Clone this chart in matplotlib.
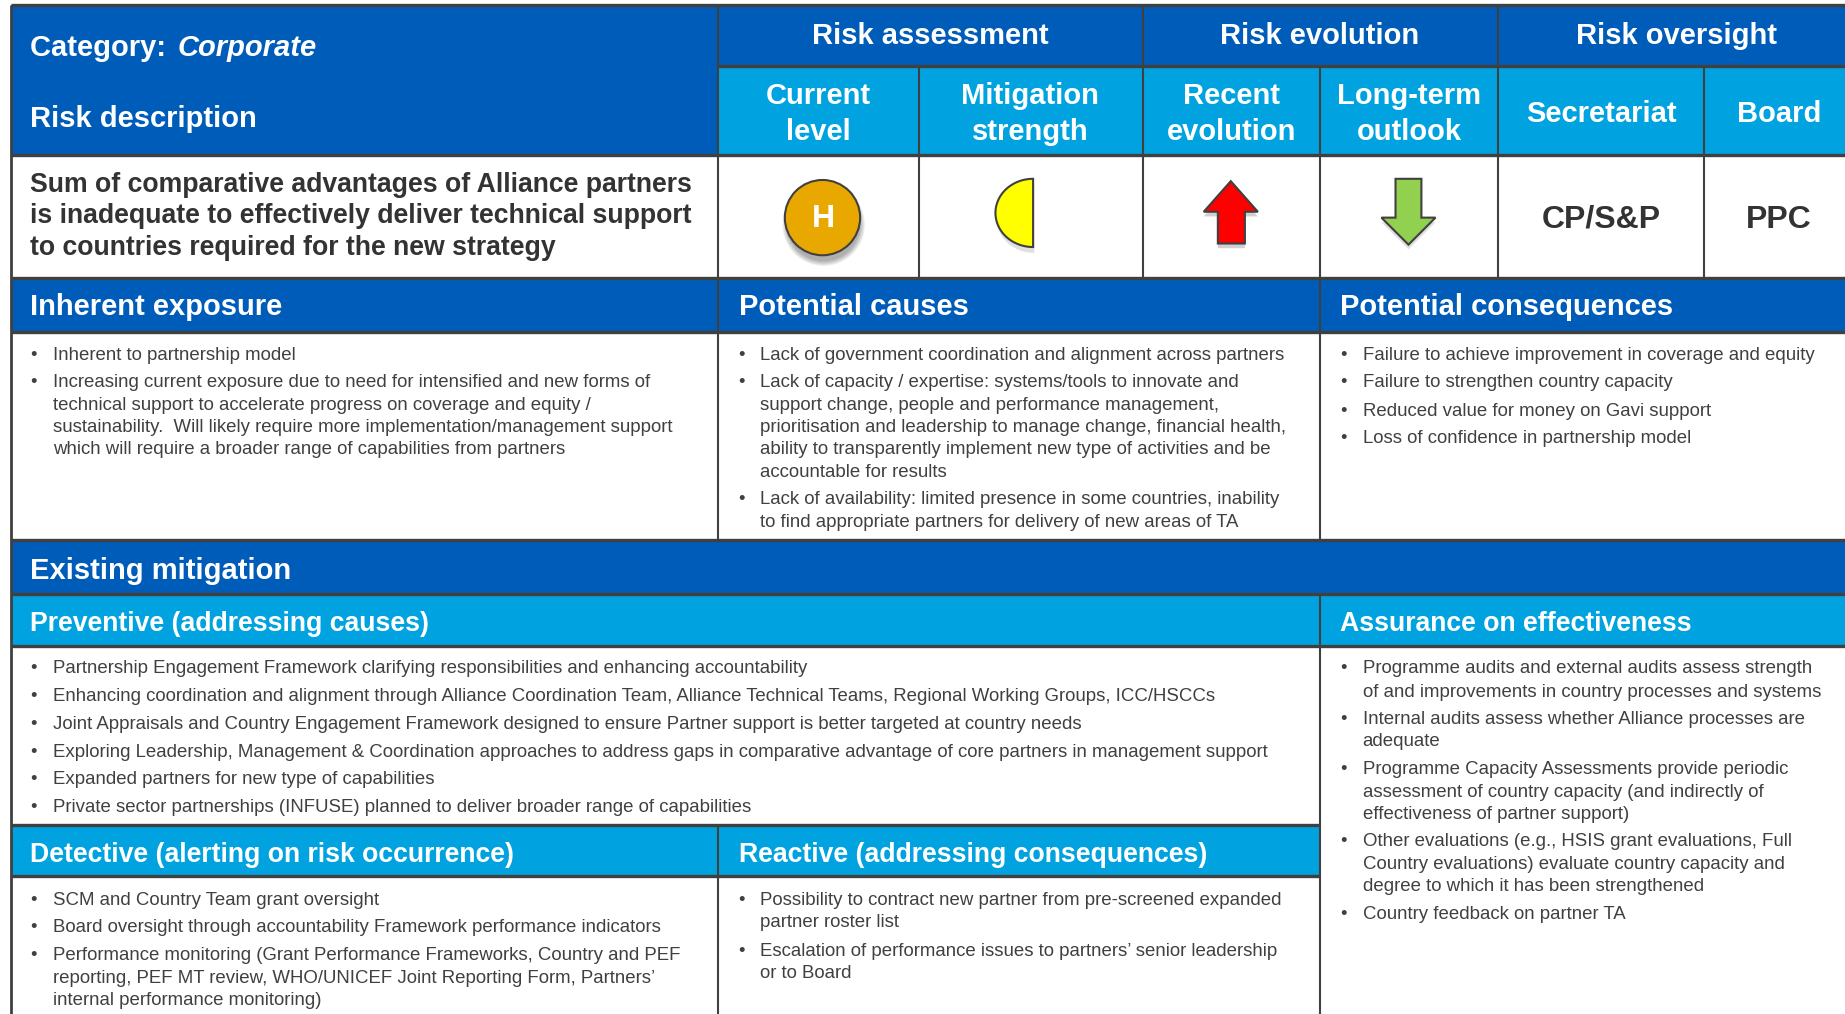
import numpy as np
import matplotlib
matplotlib.use("Agg")
import matplotlib.pyplot as plt
from matplotlib.patches import Rectangle, Circle, Polygon

plt.rcParams['font.family'] = ['Liberation Sans', 'DejaVu Sans']

DARK = '#005cb9'
LIGHT = '#00a3e0'
LINE = '#404040'
INK = '#333333'
BODY = '#404040'

risk_description = ["Sum of comparative advantages of Alliance partners",
                    "is inadequate to effectively deliver technical support",
                    "to countries required for the new strategy"]

inherent = ["• Inherent to partnership model",
            "• Increasing current exposure due to need for intensified and new forms of",
            "technical support to accelerate progress on coverage and equity /",
            "sustainability.  Will likely require more implementation/management support",
            "which will require a broader range of capabilities from partners"]
inherent_y = [301, 324, 343, 362, 381]

causes = ["• Lack of government coordination and alignment across partners",
          "• Lack of capacity / expertise: systems/tools to innovate and",
          "support change, people and performance management,",
          "prioritisation and leadership to manage change, financial health,",
          "ability to transparently implement new type of activities and be",
          "accountable for results",
          "• Lack of availability: limited presence in some countries, inability",
          "to find appropriate partners for delivery of new areas of TA"]
causes_y = [301, 324, 343, 362, 381, 400, 423, 443]

consequences = ["• Failure to achieve improvement in coverage and equity",
                "• Failure to strengthen country capacity",
                "• Reduced value for money on Gavi support",
                "• Loss of confidence in partnership model"]
consequences_y = [301, 324, 348, 371]

preventive = ["• Partnership Engagement Framework clarifying responsibilities and enhancing accountability",
              "• Enhancing coordination and alignment through Alliance Coordination Team, Alliance Technical Teams, Regional Working Groups, ICC/HSCCs",
              "• Joint Appraisals and Country Engagement Framework designed to ensure Partner support is better targeted at country needs",
              "• Exploring Leadership, Management & Coordination approaches to address gaps in comparative advantage of core partners in management support",
              "• Expanded partners for new type of capabilities",
              "• Private sector partnerships (INFUSE) planned to deliver broader range of capabilities"]
preventive_y = [567, 591, 614, 638, 661, 685]

assurance = ["• Programme audits and external audits assess strength",
             "of and improvements in country processes and systems",
             "• Internal audits assess whether Alliance processes are",
             "adequate",
             "• Programme Capacity Assessments provide periodic",
             "assessment of country capacity (and indirectly of",
             "effectiveness of partner support)",
             "• Other evaluations (e.g., HSIS grant evaluations, Full",
             "Country evaluations) evaluate country capacity and",
             "degree to which it has been strengthened",
             "• Country feedback on partner TA"]
assurance_y = [567, 587, 610, 629, 653, 672, 691, 714, 733, 752, 776]

detective = ["• SCM and Country Team grant oversight",
             "• Board oversight through accountability Framework performance indicators",
             "• Performance monitoring (Grant Performance Frameworks, Country and PEF",
             "reporting, PEF MT review, WHO/UNICEF Joint Reporting Form, Partners’",
             "internal performance monitoring)"]
detective_y = [764, 787, 811, 830, 849]

reactive = ["• Possibility to contract new partner from pre-screened expanded",
            "partner roster list",
            "• Escalation of performance issues to partners’ senior leadership",
            "or to Board"]
reactive_y = [764, 783, 807, 826]

fig = plt.figure(figsize=(18.45, 10.14), dpi=100)
ax = fig.add_axes([0, 0, 1, 1])
# work in the coordinates of the shrunk 1568x862 view
ax.set_xlim(0, 1568)
ax.set_ylim(862, 0)
ax.axis('off')


def band(x0, x1, y0, y1, color):
    ax.add_patch(Rectangle((x0, y0), x1 - x0, y1 - y0, facecolor=color, edgecolor='none', zorder=1))


def vline(x, y0, y1, lw=1.5):
    ax.plot([x, x], [y0, y1], color=LINE, lw=lw, zorder=3, solid_capstyle='butt')


def hline(y, x0=9, x1=1568, lw=2.4):
    ax.plot([x0, x1], [y, y], color=LINE, lw=lw, zorder=3, solid_capstyle='butt')


def head(x, y, s, ha='left', color='white', size=21, **kw):
    ax.text(x + 0.7, y + 2, s, ha=ha, va='center', color=color, fontsize=size, fontweight='bold', zorder=5, **kw)


def bullets(x, lines, ys):
    for s, y in zip(lines, ys):
        if s.startswith('• '):
            ax.text(x, y + 1.5, '•', ha='left', va='center', color=BODY, fontsize=13.44, zorder=5)
            s = s[2:]
        ax.text(x + 19, y + 1.5, s, ha='left', va='center', color=BODY, fontsize=13.44, zorder=5)


def shadow(make, dy=6):
    # soft drop shadow, a few faint copies growing outwards
    for grow in [3, 2, 1, 0, -1]:
        ax.add_patch(make(grow, dy))


# colour bands
band(9, 1568, 4, 132, DARK)
band(610, 1568, 56, 132, LIGHT)
band(9, 1568, 236, 282, DARK)
band(9, 1568, 459, 505, DARK)
band(9, 1568, 505, 549, LIGHT)
band(9, 1122, 701, 745, LIGHT)

# rules
for y in [4, 132, 236, 282, 459, 505, 549]:
    hline(y)
hline(56, 610)
hline(701, 9, 1122)
hline(745, 9, 1122)
vline(9, 4, 862, 2.0)
vline(610, 4, 459)
vline(781, 56, 236)
vline(971, 4, 236)
vline(1122, 56, 459)
vline(1273, 4, 236)
vline(1448, 56, 236)
vline(1122, 505, 862)
vline(610, 701, 862)

# top header
head(25, 39, "Category: ")
head(150, 39, "Corporate", fontstyle='italic')
head(25, 99, "Risk description")
head(790, 29, "Risk assessment", ha='center')
head(1121, 29, "Risk evolution", ha='center')
head(1424, 29, "Risk oversight", ha='center')
head(695, 80, "Current", ha='center')
head(695, 110, "level", ha='center')
head(875, 80, "Mitigation", ha='center')
head(875, 110, "strength", ha='center')
head(1046, 80, "Recent", ha='center')
head(1046, 110, "evolution", ha='center')
head(1197, 80, "Long-term", ha='center')
head(1197, 110, "outlook", ha='center')
head(1360, 95, "Secretariat", ha='center')
head(1511, 95, "Board", ha='center')

# risk row
for s, y in zip(risk_description, [155, 182, 209]):
    head(25, y, s, color=INK, size=19.15)
head(1360, 185, "CP/S&P", ha='center', color=INK, size=23)
head(1511, 185, "PPC", ha='center', color=INK, size=23)

# current level circle
shadow(lambda g, dy: Circle((700, 185 + dy), 32 + g, facecolor='black', alpha=0.07, edgecolor='none', zorder=2))
ax.add_patch(Circle((699, 185), 32, facecolor='#e8a800', edgecolor=LINE, lw=1.5, zorder=4))
head(699, 184, "H", ha='center', size=23)

# mitigation half moon
t = np.linspace(np.pi / 2, 3 * np.pi / 2, 60)
moon = np.column_stack([878 + 32 * np.cos(t), 181 + 29 * np.sin(t)])
ax.add_patch(Polygon(moon + [1, 5], closed=True, facecolor='black', alpha=0.12, edgecolor='none', zorder=2))
ax.add_patch(Polygon(moon, closed=True, facecolor='#ffff00', edgecolor=LINE, lw=1.5, zorder=4))

# evolution arrows
up = np.array([[1046, 154], [1069, 180], [1058, 180], [1058, 207], [1035, 207], [1035, 180], [1023, 180]])
ax.add_patch(Polygon(up + [0, 4], closed=True, facecolor='black', alpha=0.18, edgecolor='none', zorder=2))
ax.add_patch(Polygon(up, closed=True, facecolor='#ff0000', edgecolor=LINE, lw=1.5, zorder=4))
down = np.array([[1186, 152], [1208, 152], [1208, 185], [1220, 185], [1197, 208], [1174, 185], [1186, 185]])
ax.add_patch(Polygon(down + [0, 4], closed=True, facecolor='black', alpha=0.12, edgecolor='none', zorder=2))
ax.add_patch(Polygon(down, closed=True, facecolor='#92d050', edgecolor=LINE, lw=1.5, zorder=4))

# section heads
head(25, 259, "Inherent exposure")
head(627, 259, "Potential causes")
head(1138, 259, "Potential consequences")
head(25, 483, "Existing mitigation")
head(25, 528.5, "Preventive (addressing causes)", size=19.2)
head(1138, 528.5, "Assurance on effectiveness", size=19.2)
head(25, 724.5, "Detective (alerting on risk occurrence)", size=19.2)
head(627, 724.5, "Reactive (addressing consequences)", size=19.2)

# body text
bullets(26, inherent, inherent_y)
bullets(627, causes, causes_y)
bullets(1139, consequences, consequences_y)
bullets(26, preventive, preventive_y)
bullets(1139, assurance, assurance_y)
bullets(26, detective, detective_y)
bullets(627, reactive, reactive_y)

fig.savefig('out.png', dpi=100, facecolor='white')
